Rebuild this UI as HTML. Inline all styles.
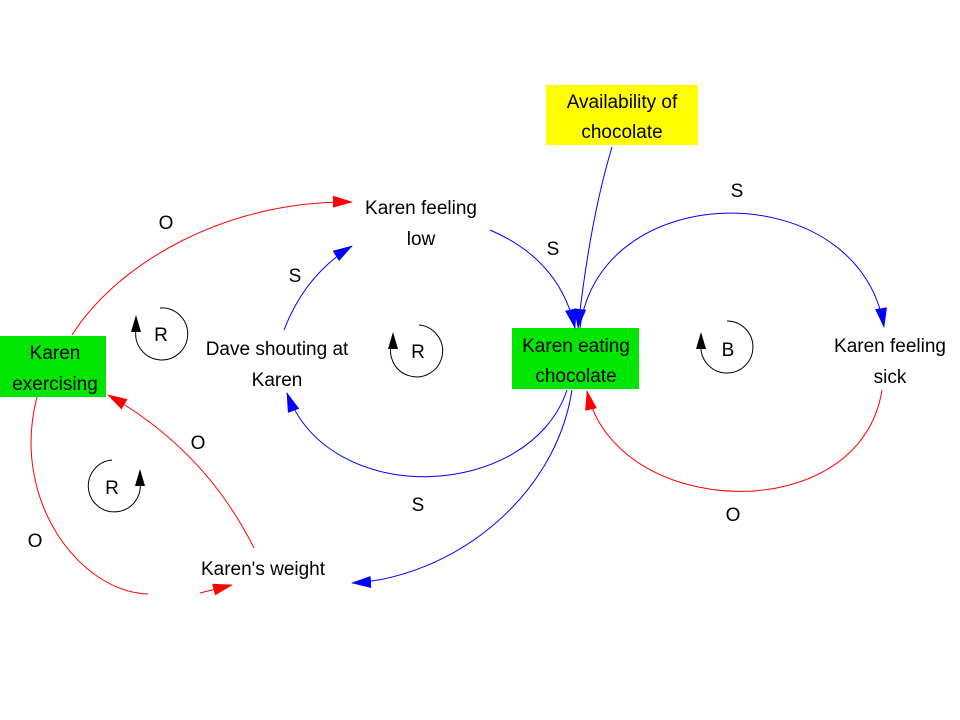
<!DOCTYPE html>
<html><head><meta charset="utf-8"><style>
html,body{margin:0;padding:0;background:#fff;}
svg{display:block;}
text{font-family:"Liberation Sans",sans-serif;font-size:19px;fill:#000;}
</style></head><body>
<svg width="960" height="720" viewBox="0 0 960 720" xmlns="http://www.w3.org/2000/svg">
<defs>
<marker id="ab" markerWidth="20" markerHeight="12" refX="19" refY="6" orient="auto" markerUnits="userSpaceOnUse"><path d="M0,0 L20,6 L0,12 Z" fill="#0000ff"/></marker>
<marker id="ar" markerWidth="20" markerHeight="12" refX="19" refY="6" orient="auto" markerUnits="userSpaceOnUse"><path d="M0,0 L20,6 L0,12 Z" fill="#ff0000"/></marker>
</defs>
<rect x="546" y="85" width="152" height="60" fill="#ffff00"/>
<rect x="512" y="328" width="127" height="61" fill="#00e600"/>
<rect x="0" y="336" width="106" height="61" fill="#00e600"/>
<g fill="none" stroke-width="1">
<path d="M72,335 C120,260 230,200 352,202" stroke="#ff0000" marker-end="url(#ar)"/>
<path d="M284,330 Q305,275 352,246" stroke="#0000ff" marker-end="url(#ab)"/>
<path d="M490,230 Q560,260 575,328" stroke="#0000ff" marker-end="url(#ab)"/>
<path d="M612,147 Q590,220 578,328" stroke="#0000ff" marker-end="url(#ab)"/>
<path d="M580,328 C600,175 860,175 884,327" stroke="#0000ff" marker-end="url(#ab)"/>
<path d="M882,390 C860,530 615,520 587,391" stroke="#ff0000" marker-end="url(#ar)"/>
<path d="M567,390 C530,500 330,510 287,393" stroke="#0000ff" marker-end="url(#ab)"/>
<path d="M572,390 C555,500 450,578 352,583" stroke="#0000ff" marker-end="url(#ab)"/>
<path d="M254,548 C220,480 170,430 108,395" stroke="#ff0000" marker-end="url(#ar)"/>
<path d="M37,397 C10,500 80,592 148,594" stroke="#ff0000"/>
<path d="M200,593 L232,585" stroke="#ff0000" marker-end="url(#ar)"/>
</g>
<g fill="none" stroke="#000">
<path d="M136,330 A26,26 0 1 0 160,308"/>
<path d="M393,340 A26,26 0 1 0 419,325"/>
<path d="M701,345 A26,26 0 1 0 727,321"/>
<path d="M140,482 A26,26 0 1 1 112,460"/>
</g>
<g fill="#000">
<path d="M131,332 L136,315 L141,332 Z"/>
<path d="M388,349 L393,332 L398,349 Z"/>
<path d="M696,349 L701,332 L706,349 Z"/>
<path d="M135,486 L140,469 L145,486 Z"/>
</g>
<g text-anchor="middle">
<text x="622" y="108">Availability of</text>
<text x="622" y="138">chocolate</text>
<text x="576" y="352">Karen eating</text>
<text x="576" y="382">chocolate</text>
<text x="55" y="359">Karen</text>
<text x="55" y="390">exercising</text>
<text x="421" y="214">Karen feeling</text>
<text x="421" y="245">low</text>
<text x="277" y="355">Dave shouting at</text>
<text x="277" y="386">Karen</text>
<text x="890" y="352">Karen feeling</text>
<text x="890" y="383">sick</text>
<text x="263" y="575">Karen's weight</text>
<text x="737" y="197">S</text>
<text x="553" y="255">S</text>
<text x="295" y="282">S</text>
<text x="418" y="511">S</text>
<text x="733" y="521">O</text>
<text x="166" y="229">O</text>
<text x="198" y="449">O</text>
<text x="35" y="547">O</text>
<text x="161" y="341">R</text>
<text x="418" y="358">R</text>
<text x="728" y="356">B</text>
<text x="112" y="494">R</text>
</g>
</svg>
</body></html>
